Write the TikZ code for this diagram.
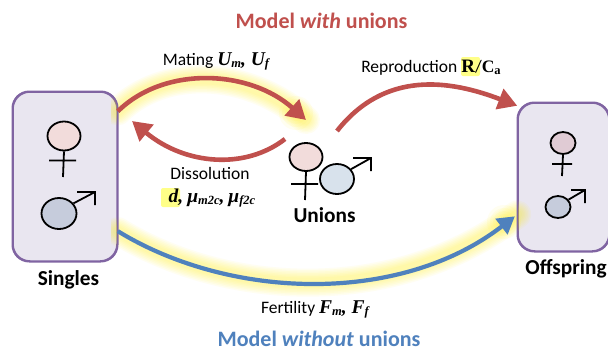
\documentclass[tikz,border=0pt]{standalone}
\usepackage{fontspec}
\setmainfont{Carlito}
\newfontfamily\mathfam{Liberation Serif}[BoldItalicFont={Liberation Serif Bold Italic}]
\usetikzlibrary{arrows.meta,calc,shapes.geometric}
\definecolor{redc}{HTML}{C0504D}
\definecolor{bluec}{HTML}{4F81BD}
\definecolor{boxfill}{HTML}{E9E6F0}
\definecolor{boxedge}{HTML}{8064A2}
\definecolor{hilite}{HTML}{FFFF88}
\definecolor{femfill}{HTML}{F2DCDB}
\definecolor{malefill}{HTML}{C6CCDC}
\definecolor{umalefill}{HTML}{D8E2EC}
\definecolor{ofemfill}{HTML}{E0CBD4}
\newcommand{\bi}[1]{{\fontsize{19.5}{19.5}\selectfont\mathfam\bfseries\itshape #1}}
\newcommand{\sbs}[1]{\raisebox{-2.5pt}{\fontsize{12.5}{12.5}\selectfont\mathfam\bfseries\itshape #1}}
\newcommand{\glowpath}[1]{%
  \foreach \w in {28,25,22,19,16,13,10}{\draw[yellow,opacity=0.055,line width=\w pt,line cap=round] #1;}}
\newcommand{\glowtip}[1]{%
  \foreach \w in {17,14,11,8}{\fill[yellow,opacity=0.06] #1 circle (\w pt);}}
\tikzset{
  x=1pt,y=-1pt,
  statebox/.style={draw=boxedge,line width=1.5pt,fill=boxfill,rounded corners=17pt,inner sep=0pt},
  sym/.style={draw=black,line width=1.8pt,ellipse,inner sep=0pt},
  symline/.style={draw=black,line width=1.8pt},
  flowred/.style={draw=redc,line width=4.6pt,-{Triangle[length=19pt,width=21pt]}},
  flowblue/.style={draw=bluec,line width=4.2pt,-{Triangle[length=17pt,width=19pt]}},
  hl/.style={fill=hilite,rounded corners=2pt},
  lab/.style={font=\fontsize{17.5}{17.5}\selectfont,anchor=base,inner sep=0pt},
  namelab/.style={font=\fontsize{21.3}{21}\selectfont\bfseries,anchor=base,inner sep=0pt},
  titlelab/.style={font=\fontsize{22}{22}\selectfont\bfseries,anchor=base,inner sep=0pt}
}
\begin{document}
\begin{tikzpicture}
\useasboundingbox (0,0) rectangle (608,351);
\fill[white] (0,0) rectangle (608,351);
% boxes
\node[statebox,minimum width=104pt,minimum height=169pt] (singles) at (65,176.5) {};
\node[statebox,minimum width=91pt,minimum height=148pt] (offspring) at (563.5,177) {};
\coordinate (matingend) at (306,120);
\coordinate (dissstart) at (285,139);
\coordinate (dissend) at (132,121);
\coordinate (reprostart) at (337,131);
% glows
\begin{scope}
\clip (111,0) rectangle (608,351);
\glowpath{(singles.51.6) .. controls (165,65) and (250,70) .. (matingend)}
\glowtip{(296,113)}
\glowpath{(singles.-46.9) .. controls (230,300) and (400,305) .. (offspring.219.1)}
\glowtip{(504,222)}
\end{scope}
\draw[boxedge,line width=1.5pt,rounded corners=17pt] (singles.north west) rectangle (singles.south east);
\draw[boxedge,line width=1.5pt,rounded corners=17pt] (offspring.north west) rectangle (offspring.south east);
% arrows
\draw[flowred] (singles.51.6) .. controls (165,65) and (250,70) .. (matingend);
\draw[flowred] (dissstart) .. controls (245,170) and (185,165) .. (dissend);
\draw[flowred] (reprostart) .. controls (385,70) and (450,80) .. (offspring.123.1);
\draw[flowblue,shorten >=3pt] (singles.-46.9) .. controls (230,300) and (400,305) .. (offspring.219.1);
% singles symbols
\node[sym,fill=femfill,minimum width=33pt,minimum height=29pt] (sf) at (64,136) {};
\draw[symline] (sf.south) -- (63,177) (49,160.5) -- (76,160.5);
\node[sym,fill=malefill,minimum width=35pt,minimum height=31pt] (sm) at (59,213.5) {};
\draw[symline] (sm.35) -- (95,192) (77,192) -- (95,192) -- (95,205);
% union symbols
\node[sym,fill=femfill,minimum width=33pt,minimum height=28pt] (uf) at (306,157) {};
\draw[symline] (uf.south) -- (305,200) (291,184) -- (318,184);
\node[sym,fill=umalefill,minimum width=34pt,minimum height=30pt] (um) at (337,179) {};
\draw[symline] (um.35) -- (371,158) (353,158) -- (371,158) -- (371,171);
% offspring symbols
\node[sym,fill=ofemfill,minimum width=25pt,minimum height=22pt] (of) at (563,143) {};
\draw[symline] (of.south) -- (562,176) (552,164) -- (572,164);
\node[sym,fill=malefill,minimum width=25pt,minimum height=22pt] (om) at (558,207) {};
\draw[symline] (om.35) -- (585,190) (571,190) -- (585,190) -- (585,203);
% highlights
\fill[hl] (161,188) rectangle (180,207);
\fill[hl] (461,57) rectangle (480,76);
% labels
\node[titlelab,text=redc] (t1) at (321.5,28) {Model \textit{with} unions};
\node[titlelab,text=bluec] (t2) at (319,346.5) {Model \textit{without} unions};
\node[lab] (l1) at (216,65) {Mating \bi{U}\sbs{m}\bi{, U}\sbs{f}};
\node[lab] (l2) at (431,72) {Reproduction {\fontsize{19}{19}\selectfont\mathfam\bfseries R}/{\mathfam\bfseries C}\sbs{\upshape a}};
\node[lab] (l3) at (210,179) {Dissolution};
\node[lab] (l4) at (212,202) {\bi{d,} \bi{μ}\sbs{m2c}\bi{,} \bi{μ}\sbs{f2c}};
\node[lab] (l5) at (315,313) {Fertility \bi{F}\sbs{m}\bi{, F}\sbs{f}};
\node[namelab] (n1) at (68.5,285) {Singles};
\node[namelab] (n2) at (324.5,222) {Unions};
\node[namelab] (n3) at (566,274) {Offspring};
\end{tikzpicture}
\end{document}
